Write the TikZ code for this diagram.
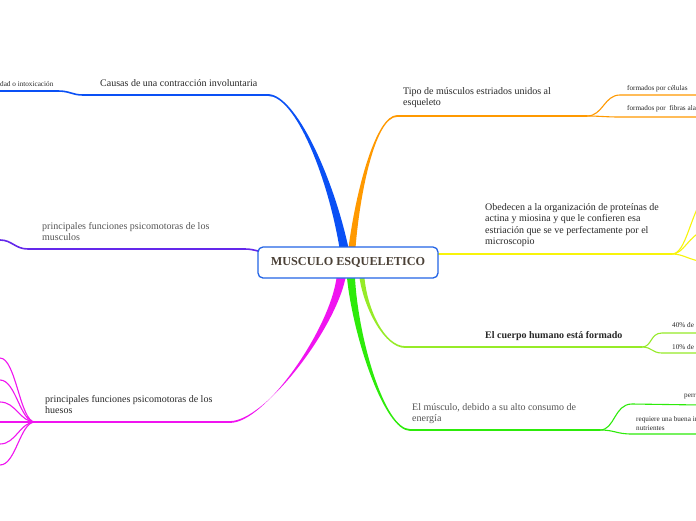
\documentclass[tikz,border=0pt]{standalone}
\usepackage{fontspec}
\setmainfont{Liberation Serif}
\usetikzlibrary{calc,positioning}
\definecolor{RamaAzul}{RGB}{10,80,245}
\definecolor{RamaNaranja}{RGB}{255,153,0}
\definecolor{RamaAmarilla}{RGB}{248,244,10}
\definecolor{RamaVioleta}{RGB}{100,40,235}
\definecolor{RamaMagenta}{RGB}{240,20,240}
\definecolor{RamaLima}{RGB}{150,235,40}
\definecolor{RamaVerde}{RGB}{45,235,10}
\definecolor{BordeAzul}{RGB}{35,100,230}
\definecolor{TextoOscuro}{RGB}{40,40,40}
\definecolor{TextoGris}{RGB}{85,85,85}
\definecolor{TituloGris}{RGB}{75,65,55}
% tapered trunk: colour, tip, control near tip, control near base, base, half width, tip side
\newcommand{\tronco}[7]{%
  \fill[#1] ($(#5)+(-#6,0)$) .. controls ($(#4)+({-0.6*#6},0)$) and ($(#3)+(0,{-1*(#7)})$) .. ($(#2)+(0,{-1*(#7)})$)
    -- ($(#2)+(0,#7)$) .. controls ($(#3)+(0,#7)$) and ($(#4)+({0.6*#6},0)$) .. ($(#5)+(#6,0)$) -- cycle;}

\begin{document}
\begin{tikzpicture}[x=1pt,y=-1pt,
  linea/.style={line width=1.6pt},
  hija/.style={line width=1.1pt},
  texto/.style={anchor=north west,inner sep=0pt,align=left,text=TextoOscuro,
    font=\fontsize{10}{11.6}\selectfont},
  chico/.style={anchor=north west,inner sep=0pt,align=left,text=TextoOscuro,
    font=\fontsize{7.2}{9}\selectfont},
  centro/.style={draw=BordeAzul,line width=1.3pt,rounded corners=5pt,fill=white,
    minimum width=180pt,minimum height=31pt,text=TituloGris,
    font=\fontsize{12.2}{14}\selectfont\bfseries}]
  \useasboundingbox (0,0) rectangle (696,520);
  \clip (0,0) rectangle (696,520);
  \fill[white] (0,0) rectangle (696,520);

  % ends of the branches
  \coordinate (pAzul) at (268,95);
  \coordinate (pNaranja) at (397,116);
  \coordinate (pMagenta) at (230,422);
  \coordinate (pLima) at (405,347);
  \coordinate (pVerde) at (410,430);
  \coordinate (pVioleta) at (258,251);
  \coordinate (pAmarilla) at (438,254);
  \coordinate (rNaranja) at (587,116);
  \coordinate (rAmarilla) at (672,254);
  \coordinate (rMagenta) at (35,422);
  \coordinate (rLima) at (642,347);
  \coordinate (rVerde) at (600,430);

  % trunks
  \tronco{RamaAzul}{268,95}{295,95}{330,175}{344,248}{4.5}{-0.9}
  \tronco{RamaNaranja}{397,116}{376,116}{358,190}{352,248}{3.5}{0.9}
  \tronco{RamaMagenta}{230,422}{265,422}{332,330}{341,278}{4.5}{-0.9}
  \tronco{RamaLima}{405,347}{385,347}{366,310}{362,278}{2.5}{-0.9}
  \tronco{RamaVerde}{410,430}{385,430}{356,340}{351,278}{4}{-0.9}

  % lines under the topics
  \draw[linea,RamaAzul] (pAzul) -- (83,95) .. controls (72,95) and (70,91) .. (58,91) -- (0,91);
  \draw[linea,RamaNaranja] (pNaranja) -- (rNaranja);
  \draw[hija,RamaNaranja] (rNaranja) .. controls (603,116) and (604,95) .. (620,95) -- (700,95);
  \draw[hija,RamaNaranja] (rNaranja) .. controls (600,116) and (605,117) .. (620,117) -- (700,117);
  \draw[linea,RamaVioleta] (pVioleta) .. controls (254,250) and (250,249) .. (245,249) -- (28,249)
    .. controls (15,249) and (12,240) .. (0,240);
  \draw[linea,RamaAmarilla] (pAmarilla) -- (rAmarilla);
  \draw[hija,RamaAmarilla] (rAmarilla) .. controls (686,254) and (690,215) .. (705,195);
  \draw[hija,RamaAmarilla] (rAmarilla) .. controls (684,254) and (688,236) .. (705,230);
  \draw[hija,RamaAmarilla] (rAmarilla) .. controls (684,254) and (688,260) .. (705,262);
  \draw[linea,RamaMagenta] (pMagenta) -- (rMagenta);
  \foreach \y in {358,380,402,422,444,465}
    \draw[hija,RamaMagenta] (rMagenta) .. controls (20,422) and (16,\y) .. (0,\y);
  \draw[linea,RamaLima] (pLima) -- (rLima);
  \draw[hija,RamaLima] (rLima) .. controls (652,347) and (650,333) .. (662,333) -- (700,333);
  \draw[hija,RamaLima] (rLima) .. controls (652,347) and (652,353) .. (662,353) -- (700,353);
  \draw[linea,RamaVerde] (pVerde) -- (rVerde);
  \draw[hija,RamaVerde] (rVerde) .. controls (615,430) and (614,404) .. (632,404) -- (700,405);
  \draw[hija,RamaVerde] (rVerde) .. controls (615,430) and (616,434) .. (632,434) -- (700,434);

  % topics
  \node[centro] (musculo) at (348,262.5) {MUSCULO ESQUELETICO};
  \node[texto] (causas) at (100,79) {Causas de una contracción involuntaria};
  \node[chico] (intox) at (0,81) {dad o intoxicación};
  \node[texto] (tipo) at (403,87) {Tipo de músculos estriados unidos al\\esqueleto};
  \node[chico] (celulas) at (627,85) {formados por células};
  \node[chico] (fibras) at (627,105) {formados por~ fibras ala};
  \node[texto] (obedecen) at (485,203) {Obedecen a la organización de proteínas de\\
    actina y miosina y que le confieren esa\\
    estriación que se ve perfectamente por el\\microscopio};
  \node[texto,text=TextoGris] (psicoMusc) at (42,222) {principales funciones psicomotoras de los\\musculos};
  \node[texto] (psicoHues) at (45,395) {principales funciones psicomotoras de los\\huesos};
  \node[texto,font=\fontsize{10}{11.6}\selectfont\bfseries] (cuerpo) at (485,331) {El cuerpo humano está formado};
  \node[chico] (cuarenta) at (672,322) {40\% de e};
  \node[chico] (diez) at (672,344) {10\% de e};
  \node[texto,text=TextoGris] (energia) at (412,403) {El músculo, debido a su alto consumo de\\energía};
  \node[chico] (perr) at (684,394) {perr};
  \node[chico] (requiere) at (636,416) {requiere una buena ir\\nutrientes};
\end{tikzpicture}
\end{document}
